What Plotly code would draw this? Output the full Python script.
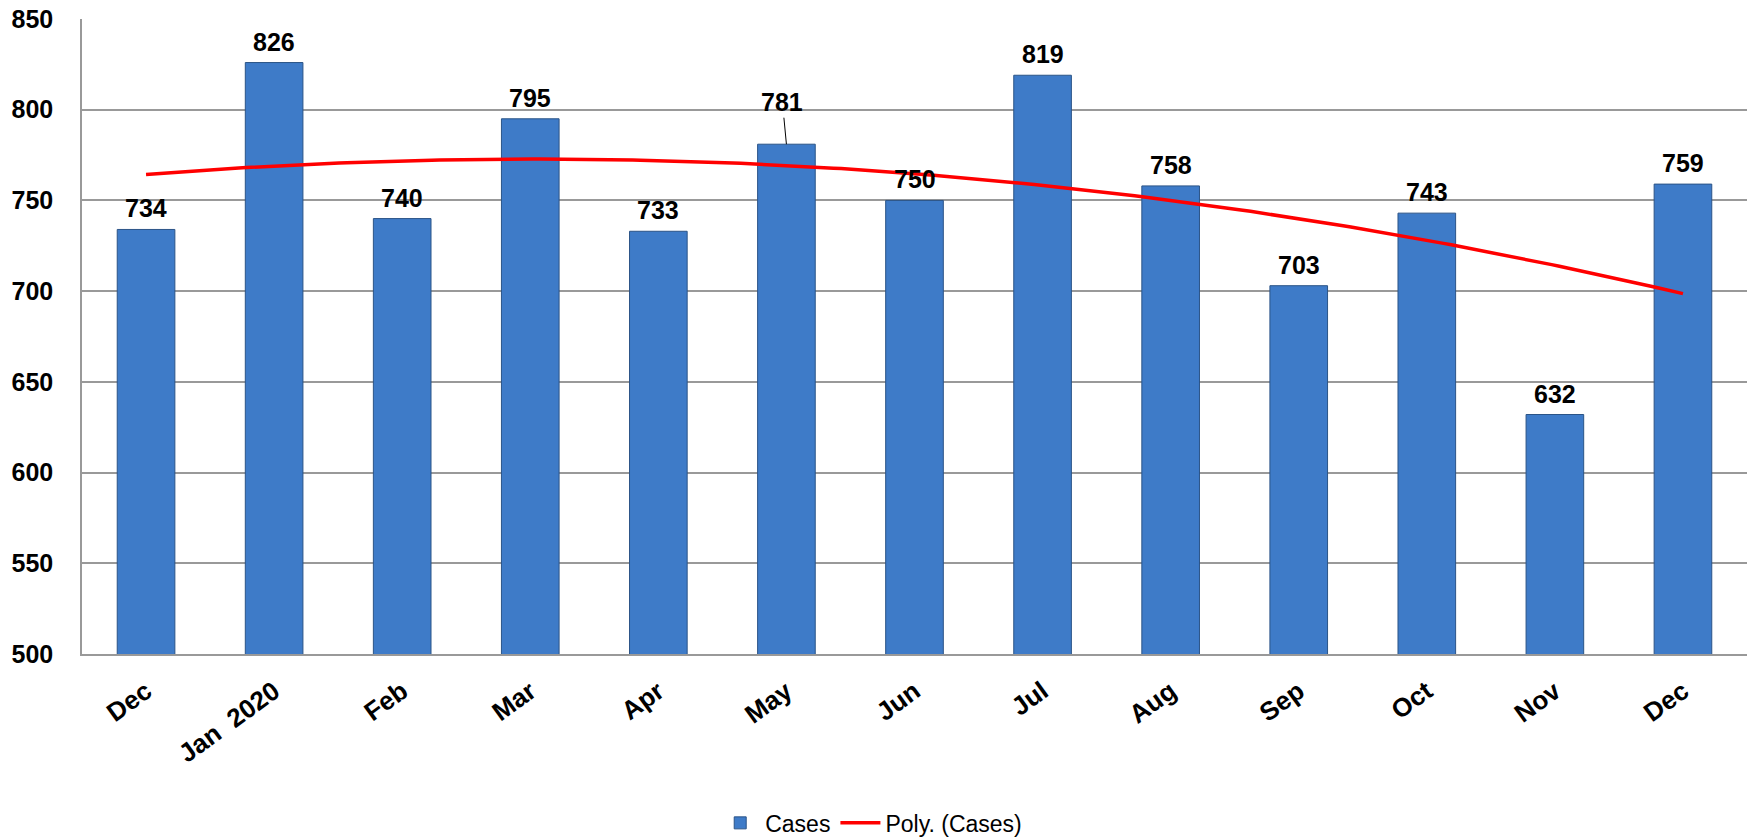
import numpy as np
import plotly.graph_objects as go

categories = ["Dec", "Jan\u00a0\u00a02020", "Feb", "Mar", "Apr", "May", "Jun", "Jul", "Aug", "Sep", "Oct", "Nov", "Dec"]
cases = [734, 826, 740, 795, 733, 781, 750, 819, 758, 703, 743, 632, 759]
y_ticks = [500, 550, 600, 650, 700, 750, 800, 850]

FONT = "Liberation Sans, Arial, sans-serif"
xpos = list(range(len(categories)))

# Excel-style polynomial (order 2) trendline from the data
coef = np.polyfit(np.arange(1, len(cases) + 1), cases, 2)
xt = np.linspace(0, len(cases) - 1, 200)
yt = np.polyval(coef, xt + 1)

fig = go.Figure()
fig.add_trace(go.Bar(
    x=xpos, y=cases, name="Cases", width=0.45,
    marker=dict(color="#3E7BC8", line=dict(color="#2B5487", width=1)),
))
fig.add_trace(go.Scatter(
    x=xt, y=yt, mode="lines", name="Poly. (Cases)",
    line=dict(color="#FF0000", width=3.5),
))

for i, v in enumerate(cases):
    if categories[i] == "May":
        fig.add_annotation(x=i, y=v, text=f"<b>{v}</b>", showarrow=True,
                           arrowhead=0, arrowwidth=1, arrowcolor="#000000",
                           ax=-4, ay=-42, standoff=0,
                           font=dict(family=FONT, size=25, color="#000000"))
    else:
        fig.add_annotation(x=i, y=v, text=f"<b>{v}</b>", showarrow=False,
                           yanchor="bottom", yshift=5,
                           font=dict(family=FONT, size=25, color="#000000"))

fig.update_layout(
    width=1754, height=839,
    margin=dict(l=82, r=7, t=19, b=185, autoexpand=False),
    paper_bgcolor="white", plot_bgcolor="white",
    showlegend=True,
    legend=dict(orientation="h", x=0.474, xanchor="center", y=-0.266, yanchor="middle",
                font=dict(family=FONT, size=23, color="#000000"), itemwidth=40),
    font=dict(family=FONT, color="#000000"),
)
fig.update_xaxes(
    tickmode="array", tickvals=xpos, ticktext=[f"<b>{c}</b>" for c in categories],
    range=[-0.5, len(categories) - 0.5], tickangle=-36,
    tickfont=dict(family=FONT, size=26, color="#000000"),
    showline=True, linecolor="#999999", linewidth=2, showgrid=False,
    ticklabelstandoff=10, zeroline=False, automargin=False,
)
fig.update_yaxes(
    range=[500, 850], tickmode="array", tickvals=y_ticks,
    ticktext=[f"<b>{t}</b>" for t in y_ticks],
    tickfont=dict(family=FONT, size=25, color="#000000"),
    showgrid=True, gridcolor="#999999", gridwidth=1.5,
    showline=True, linecolor="#999999", linewidth=1.5,
    ticklabelstandoff=22, zeroline=False, automargin=False,
)

fig.write_html("out.html")
